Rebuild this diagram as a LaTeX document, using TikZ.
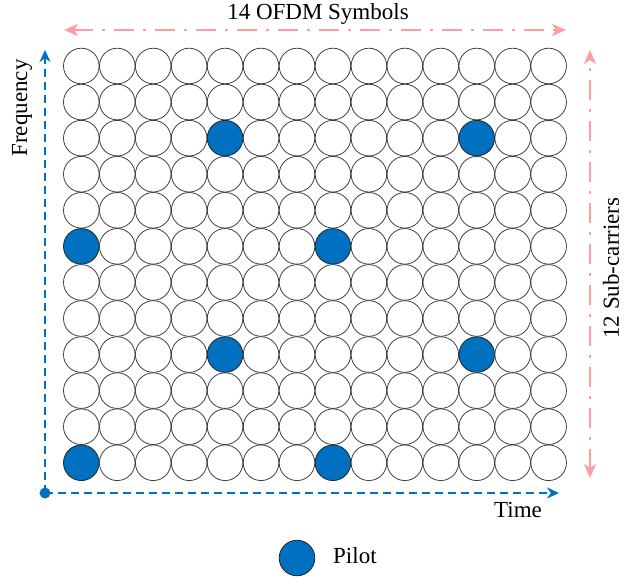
\documentclass[tikz,border=0pt]{standalone}
\usepackage{fontspec}
\setmainfont{Liberation Serif}
\usetikzlibrary{arrows.meta}
\definecolor{pilotblue}{HTML}{0070C0}
\definecolor{pinkline}{HTML}{FF9C9C}
\begin{document}
\begin{tikzpicture}[x=1pt,y=-1pt,
  cell/.style={circle, draw=black!75, line width=0.8pt, minimum size=35.6pt, inner sep=0pt},
  pilot/.style={cell, fill=pilotblue, draw=black!85},
  axis/.style={pilotblue, line width=2.7pt, dash pattern=on 8pt off 5pt, -{Stealth[length=12pt,width=11pt]}},
  span/.style={pinkline, line width=2pt, dash pattern=on 20pt off 9pt on 3pt off 9pt,
    {Stealth[length=14pt,width=12pt,inset=4pt]}-{Stealth[length=14pt,width=12pt,inset=4pt]}},
  lbl/.style={font=\fontsize{23}{26}\selectfont, inner sep=0pt}]
\useasboundingbox (0,0) rectangle (624,584);
\foreach \r in {1,...,12} {
  \foreach \c in {1,...,14} {
    \pgfmathtruncatemacro\isp{(mod(\r,6)==3 && (\c==5 || \c==12)) || (mod(\r,6)==0 && (\c==1 || \c==8))}
    \ifnum\isp=1 \def\sty{pilot}\else\def\sty{cell}\fi
    \node[\sty] (c-\r-\c) at ({81.3+(\c-1)*35.95},{66+(\r-1)*36.07}) {};
  }
}
% axes
\coordinate (origin) at (45,493);
\coordinate (ytop) at (45,50);
\coordinate (xend) at (559,493);
\draw[axis] (origin) -- (ytop);
\draw[axis] (origin) -- (xend);
\fill[pilotblue] (origin) circle (5.5pt);
\node[lbl, rotate=90] (freq) at (22,108) {Frequency};
\node[lbl] (time) at (518,510) {Time};
% spans
\coordinate (tl) at (64,30);
\coordinate (tr) at (566,30);
\draw[span] (tl) -- (tr);
\node[lbl, anchor=base] (sym) at (318,19) {14 OFDM Symbols};
\coordinate (rt) at (590,50);
\coordinate (rb) at (590,478);
\draw[span] (rb) -- (rt);
\node[lbl, rotate=90] (sub) at (611,268) {12 Sub-carriers};
% legend
\node[pilot] (legend) at (297,558) {};
\node[lbl, anchor=west] (pilottext) at (333,556) {Pilot};
\end{tikzpicture}
\end{document}
